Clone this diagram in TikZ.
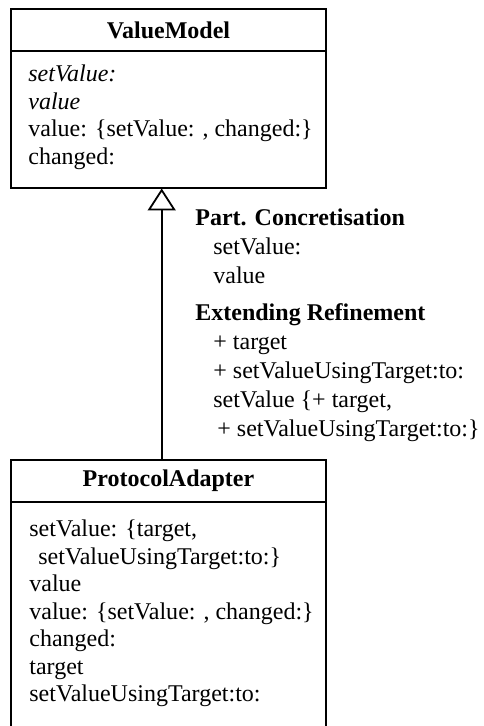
\documentclass[tikz,border=0pt]{standalone}
\usepackage{fontspec}
\setmainfont{Liberation Serif}
\usetikzlibrary{positioning,arrows.meta}
\newcommand{\umlfont}{\fontsize{12}{13.75}\selectfont}
\newcommand{\notefont}{\fontsize{12}{14.5}\selectfont}
\tikzstyle{classhead} = [rectangle, draw=black, line width=1pt, outer sep=0pt, minimum width=157.5pt, minimum height=21pt, font=\umlfont\bfseries]
\tikzstyle{classbody} = [rectangle, draw=black, line width=1pt, outer sep=0pt, minimum width=157.5pt]
\tikzstyle{members} = [align=left, inner sep=0pt, anchor=north west, font=\umlfont]
\tikzstyle{inherit} = [line width=0.9pt, -{Triangle[open, length=11pt, width=14pt]}]

\begin{document}
\begin{tikzpicture}[x=0.5pt, y=-0.5pt]
\clip (0,0) rectangle (483,726);

\node (vmHead) [classhead] at (168.5,30.5) {ValueModel};
\node (vmBody) [classbody, minimum height=68.5pt, below=0pt of vmHead] {};
\node (vmAttrs) [members] at (28,62) {\strut\textit{setValue:}\\ \textit{value}\\ value: \{setValue: , changed:\}\\ changed:};

\node (paHead) [classhead] at (168.5,481) {ProtocolAdapter};
\node (paBody) [classbody, minimum height=130pt, below=0pt of paHead] {};
\node (paAttrs) [members] at (29,517) {\strut setValue: \{target,\\ \hspace*{4.5pt}setValueUsingTarget:to:\}\\ value\\ value: \{setValue: , changed:\}\\ changed:\\ target\\ setValueUsingTarget:to:};

\node (refLabel) [members, font=\notefont] at (195,205) {\strut\textbf{Part. Concretisation}\\ \hspace*{9pt}setValue:\\ \hspace*{9pt}value\\[4pt] \textbf{Extending Refinement}\\ \hspace*{9pt}+ target\\ \hspace*{9pt}+ setValueUsingTarget:to:\\ \hspace*{9pt}setValue \{+ target,\\ \hspace*{11pt}+ setValueUsingTarget:to:\}};

\draw [inherit] ([xshift=-3.4pt]paHead.north) -- ([xshift=-3.4pt]vmBody.south);

\end{tikzpicture}
\end{document}
